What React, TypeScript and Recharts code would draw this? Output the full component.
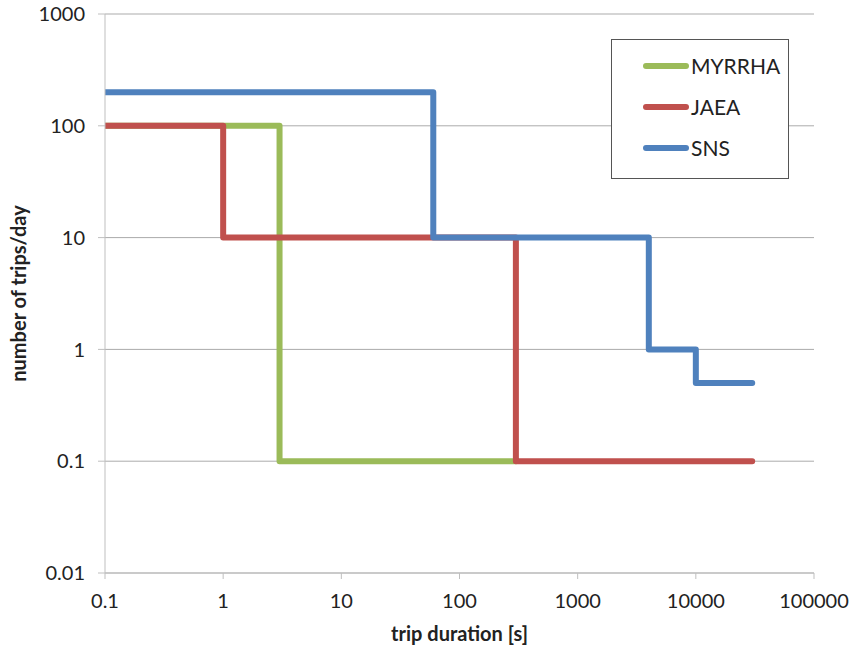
import React from 'react';
import { LineChart, Line, XAxis, YAxis, CartesianGrid } from 'recharts';

// Step vertices (trip duration [s], trips/day); drawn with stepAfter
const myrrhaX = [0.1, 3, 300];
const myrrhaY = [100, 0.1, 0.1];
const jaeaX = [0.1, 1, 300, 30000];
const jaeaY = [100, 10, 0.1, 0.1];
const snsX = [0.1, 60, 4000, 10000, 30000];
const snsY = [200, 10, 1, 0.5, 0.5];

const xTicks = [0.1, 1, 10, 100, 1000, 10000, 100000];
const yTicks = [0.01, 0.1, 1, 10, 100, 1000];

const zip = (xs: number[], ys: number[]) => xs.map((x, i) => ({ x, y: ys[i] }));

const series = [
  { name: 'MYRRHA', color: '#9BBB59', data: zip(myrrhaX, myrrhaY) },
  { name: 'JAEA', color: '#C0504D', data: zip(jaeaX, jaeaY) },
  { name: 'SNS', color: '#4F81BD', data: zip(snsX, snsY) },
];

const FONT = 'Lato, "Open Sans", sans-serif';

const fmt = (v: number) => String(v);

const LegendBox = () => (
  <div
    style={{
      position: 'absolute',
      left: 611,
      top: 39,
      width: 178,
      height: 140,
      boxSizing: 'border-box',
      border: '1.5px solid #555',
      background: '#fff',
      paddingTop: 5,
      fontFamily: FONT,
    }}
  >
    {series.map((s) => (
      <div key={s.name} style={{ display: 'flex', alignItems: 'center', height: 41, marginLeft: 31 }}>
        <div style={{ width: 46, height: 6, borderRadius: 3, background: s.color }} />
        <span style={{ fontSize: 21, color: '#222', marginLeft: 2, lineHeight: '21px' }}>{s.name}</span>
      </div>
    ))}
  </div>
);

export default function App() {
  return (
    <div style={{ position: 'absolute', left: 0, top: 0, width: 853, height: 650, background: '#fff' }}>
      <LineChart width={853} height={650} margin={{ top: 14, right: 39, bottom: 0, left: 0 }}>
        <CartesianGrid horizontal={true} vertical={false} stroke="#ABABAB" strokeWidth={1} />
        <XAxis
          dataKey="x"
          type="number"
          scale="log"
          domain={[0.1, 100000]}
          ticks={xTicks}
          tickFormatter={fmt}
          allowDataOverflow
          height={77}
          stroke="#BFBFBF"
          tickLine={{ stroke: '#BFBFBF' }}
          tickSize={6}
          tickMargin={15}
          tick={{ fill: '#222', fontSize: 20, fontFamily: FONT }}
          label={{ value: 'trip duration [s]', position: 'insideBottom', offset: 9, fill: '#222', fontSize: 20, fontWeight: 'bold', fontFamily: FONT }}
        />
        <YAxis
          dataKey="y"
          type="number"
          scale="log"
          domain={[0.01, 1000]}
          ticks={yTicks}
          tickFormatter={fmt}
          allowDataOverflow
          width={105}
          stroke="#BFBFBF"
          tickLine={{ stroke: '#BFBFBF' }}
          tickSize={7}
          tickMargin={13}
          tick={{ fill: '#222', fontSize: 20, fontFamily: FONT }}
          label={{ value: 'number of trips/day', angle: -90, position: 'insideLeft', offset: 19, fill: '#222', fontSize: 20, fontWeight: 'bold', fontFamily: FONT, style: { textAnchor: 'middle' } }}
        />
        {series.map((s) => (
          <Line
            key={s.name}
            data={s.data}
            dataKey="y"
            name={s.name}
            type="stepAfter"
            stroke={s.color}
            strokeWidth={6}
            strokeLinecap="round"
            strokeLinejoin="round"
            dot={false}
            activeDot={false}
            isAnimationActive={false}
          />
        ))}
      </LineChart>
      <LegendBox />
    </div>
  );
}
